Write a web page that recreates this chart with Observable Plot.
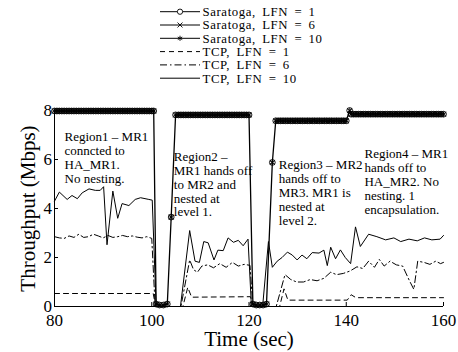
<!DOCTYPE html>
<html><head><meta charset="utf-8">
<script src="https://cdn.jsdelivr.net/npm/d3@7"></script>
<script src="https://cdn.jsdelivr.net/npm/@observablehq/plot@0.6"></script>
<style>
body{margin:0;background:#fff;}
#chart{width:458px;height:352px;overflow:hidden;}
svg{display:block;}
</style>
</head><body><div id="chart"></div>
<script>
// ---- Saratoga (all three LFN values overlap) ----
const sarTime = [
 80,80.5,81,81.5,82,82.5,83,83.5,84,84.5,85,85.5,86,86.5,87,87.5,88,88.5,89,89.5,
 90,90.5,91,91.5,92,92.5,93,93.5,94,94.5,95,95.5,96,96.5,97,97.5,98,98.5,99,99.5,100,100.4,
 100.9,101.6,102.4,103.2,104.0,104.9,
 105.5,106,106.5,107,107.5,108,108.5,109,109.5,110,110.5,111,111.5,112,112.5,113,113.5,114,114.5,115,
 115.5,116,116.5,117,117.5,118,118.5,119,119.5,120,
 120.8,121.5,122.2,122.9,123.6,124.8,125.5,
 126,126.5,127,127.5,128,128.5,129,129.5,130,130.5,131,131.5,132,132.5,133,133.5,134,134.5,135,135.5,
 136,136.5,137,137.5,138,138.5,139,139.5,140,
 140.7,
 141,141.5,142,142.5,143,143.5,144,144.5,145,145.5,146,146.5,147,147.5,148,148.5,149,149.5,150,150.5,
 151,151.5,152,152.5,153,153.5,154,154.5,155,155.5,156,156.5,157,157.5,158,158.5,159,159.5,160
];
const sarValue = [
 7.98,7.98,7.98,7.98,7.98,7.98,7.98,7.98,7.98,7.98,7.98,7.98,7.98,7.98,7.98,7.98,7.98,7.98,7.98,7.98,
 7.98,7.98,7.98,7.98,7.98,7.98,7.98,7.98,7.98,7.98,7.98,7.98,7.98,7.98,7.98,7.98,7.98,7.98,7.98,7.98,7.98,7.98,
 0.1,0.06,0.06,0.1,3.65,7.82,
 7.82,7.82,7.82,7.82,7.82,7.82,7.82,7.82,7.82,7.82,7.82,7.82,7.82,7.82,7.82,7.82,7.82,7.82,7.82,7.82,
 7.82,7.82,7.82,7.82,7.82,7.82,7.82,7.82,7.82,7.82,
 0.1,0.06,0.06,0.06,0.1,5.88,7.58,
 7.58,7.58,7.58,7.58,7.58,7.58,7.58,7.58,7.58,7.58,7.58,7.58,7.58,7.58,7.58,7.58,7.58,7.58,7.58,7.58,
 7.58,7.58,7.58,7.58,7.58,7.58,7.58,7.58,7.58,
 8.0,
 7.85,7.85,7.85,7.85,7.85,7.85,7.85,7.85,7.85,7.85,7.85,7.85,7.85,7.85,7.85,7.85,7.85,7.85,7.85,7.85,
 7.85,7.85,7.85,7.85,7.85,7.85,7.85,7.85,7.85,7.85,7.85,7.85,7.85,7.85,7.85,7.85,7.85,7.85,7.85
];

// ---- TCP, LFN = 10 (solid) ----
const tcp10Time = [80,81,82.6,83.6,84.7,85.7,87.1,88.4,89.4,90.1,90.8,92,93,93.9,95.3,96.6,97.7,99.4,100.1,100.9,
 105.9,107.8,108.9,109.8,110.7,111.6,112.8,113.6,114.7,115.7,116.8,117.8,118.8,119.8,120.5,
 122.8,124,124.8,125.8,126.8,127.9,128.9,129.9,130.9,131.9,133,134.4,135.4,136.1,136.8,137.8,138.8,139.8,140.9,
 141.9,142.9,144.6,146.3,148.1,149.8,151.2,152.9,154.6,156.1,157.6,159.3,160];
const tcp10Value = [4.3,4.67,4.37,4.53,4.4,4.64,4.8,4.74,4.74,4.89,2.52,4.71,3.6,4.2,4.12,4.37,4.44,4.37,4.34,0,
 0,3.1,1.85,1.8,2.65,2.6,1.9,2.3,2.28,2.8,2.62,2.7,2.48,2.75,0,
 0,2.65,1.6,1.85,2.0,2.22,2.1,1.9,2.1,1.95,2.2,2.18,2.3,1.67,2.42,1.95,2.31,2.0,1.75,
 3.25,2.45,2.95,2.85,2.72,2.8,2.65,2.75,2.68,2.8,2.72,2.75,2.9];

// ---- TCP, LFN = 6 (dash-dot) ----
const tcp6Time = [80,81,82,83,84,85,86,87,88,89,90,91,92,93,94,95,96,97,98,99,100,100.7,
 106,107.8,108.6,109.4,110.3,111.5,112.7,114,115.3,116.6,117.8,119,120.2,120.8,
 125.6,127.4,128.6,129.8,131.2,132.6,134,135.4,136.8,138,139.4,140.8,142.2,143.4,144.6,145.8,146.8,147.8,
 149,150.3,151.6,153,153.9,154.7,156,157.2,158.4,159.4,160];
const tcp6Value = [2.85,2.8,2.78,2.88,2.82,2.95,2.82,2.85,2.95,2.88,2.8,2.9,2.82,2.85,2.9,2.85,2.88,2.83,2.8,2.85,2.78,0,
 0,1.9,1.5,1.4,1.65,1.7,1.58,1.75,1.6,1.8,1.65,1.72,1.68,0,
 0,1.3,1.1,1.0,1.0,1.1,1.05,1.15,1.4,1.3,1.35,1.45,1.62,1.55,1.85,1.6,1.92,1.65,
 1.85,1.7,1.65,1.05,0.7,1.85,1.8,1.72,1.85,1.75,1.8];

// ---- TCP, LFN = 1 (dashed) ----
const tcp1Time = [80,100.3,100.8,106.4,107.4,108.2,120.3,120.9,126.3,127.2,128,140.2,141,142,160];
const tcp1Value = [0.53,0.53,0,0,0.78,0.38,0.4,0,0,0.72,0.26,0.26,0.48,0.36,0.36];

// ---- axes / labels ----
const xTicks = [80,100,120,140,160];
const yTicks = [0,2,4,6,8];
const xTitle = "Time (sec)";
const yTitle = "Throughput (Mbps)";

// ---- annotations ----
const annoTime = [82.06,104.53,126.13,143.75];
const annoValue = [7.15,6.35,6.02,6.45];
const annoText = [
 "Region1 \u2013 MR1\nconncted to\nHA_MR1.\nNo nesting.",
 "Region2 \u2013\nMR1 hands off\nto MR2 and\nnested at\nlevel 1.",
 "Region3 \u2013 MR2\nhands off to\nMR3. MR1 is\nnested at\nlevel 2.",
 "Region4 \u2013 MR1\nhands off to\nHA_MR2. No\nnesting. 1\nencapsulation."
];

// ---- legend ----
const legendLabels = ["Saratoga, LFN = 1","Saratoga, LFN = 6","Saratoga, LFN = 10","TCP, LFN = 1","TCP, LFN = 6","TCP, LFN = 10"];
const legendMarkers = ["circle","times","asterisk",null,null,null];
const legendDash = [null,null,null,"5,4","7,3,1.5,3",null];

const FONT = "Liberation Serif, Times New Roman, serif";
const toRows = (ts, vs) => ts.map((t,i)=>({t, v: vs[i]}));
const sar = toRows(sarTime, sarValue);
const tcp10 = toRows(tcp10Time, tcp10Value);
const tcp6 = toRows(tcp6Time, tcp6Value);
const tcp1 = toRows(tcp1Time, tcp1Value);
const annos = annoText.map((s,i)=>({t: annoTime[i], v: annoValue[i], s}));

const chart = document.getElementById("chart");

// legend svg (above the plot)
const symbolMap = {circle: d3.symbolCircle, times: d3.symbolTimes, asterisk: d3.symbolAsterisk};
const leg = d3.create("svg").attr("width",458).attr("height",92);
legendLabels.forEach((lab,i)=>{
  const g = leg.append("g").attr("transform",`translate(0,${11.7 + i*13.3})`);
  const ln = g.append("line").attr("x1",160).attr("x2",200).attr("y1",0).attr("y2",0)
    .attr("stroke","black").attr("stroke-width",1);
  if (legendDash[i]) ln.attr("stroke-dasharray", legendDash[i]);
  if (legendMarkers[i]) g.append("path").attr("transform","translate(180,0)")
    .attr("d", d3.symbol(symbolMap[legendMarkers[i]], legendMarkers[i]==="circle"?22:18)())
    .attr("fill", legendMarkers[i]==="circle" ? "white" : "none").attr("stroke","black").attr("stroke-width",0.9);
  g.append("text").attr("x",202.5).attr("dy","0.35em").text(lab)
    .attr("font-family",FONT).attr("font-size",12.8).attr("letter-spacing",0.6).attr("word-spacing",2.5)
    .attr("fill","black");
});
chart.appendChild(leg.node());

const plot = Plot.plot({
  width: 458, height: 260,
  marginLeft: 54, marginRight: 15, marginTop: 18, marginBottom: 46,
  style: {fontFamily: FONT, fontSize: "17px", color: "black", background: "white", overflow: "visible"},
  x: {domain: [xTicks[0], xTicks[xTicks.length-1]]},
  y: {domain: [yTicks[0], yTicks[yTicks.length-1]]},
  marks: [
    Plot.line(tcp1, {x:"t", y:"v", stroke:"black", strokeWidth:1, strokeDasharray:"5,4"}),
    Plot.line(tcp6, {x:"t", y:"v", stroke:"black", strokeWidth:1, strokeDasharray:"7,3,1.5,3"}),
    Plot.line(tcp10, {x:"t", y:"v", stroke:"black", strokeWidth:1}),
    Plot.line(sar, {x:"t", y:"v", stroke:"black", strokeWidth:1.3}),
    Plot.dot(sar, {x:"t", y:"v", symbol:"circle", r:2.9, stroke:"black", fill:"none", strokeWidth:0.9}),
    Plot.dot(sar, {x:"t", y:"v", symbol:"times", r:2.4, stroke:"black", strokeWidth:0.8}),
    Plot.dot(sar, {x:"t", y:"v", symbol:"asterisk", r:2.4, stroke:"black", strokeWidth:0.8}),
    Plot.ruleX([xTicks[0]], {stroke:"black"}),
    Plot.ruleY([yTicks[0]], {stroke:"black"}),
    Plot.axisX({ticks: xTicks, tickSize: -4, tickPadding: 11, label: null, fontSize: 17, fontFamily: FONT}),
    Plot.axisY({ticks: yTicks, tickSize: -4, tickPadding: 6.5, label: null, fontSize: 17, fontFamily: FONT}),
    Plot.text(annos, {x:"t", y:"v", text:"s", textAnchor:"start", lineAnchor:"top", fontSize:13, lineHeight:1.07, fill:"black", fontFamily: FONT}),
    Plot.text([yTitle], {frameAnchor:"left", dx:-26, rotate:-90, textAnchor:"middle", lineAnchor:"middle", fontSize:21, fill:"black", fontFamily: FONT}),
    Plot.text([xTitle], {frameAnchor:"bottom", dy:33, textAnchor:"middle", lineAnchor:"middle", fontSize:21, fill:"black", fontFamily: FONT})
  ]
});
chart.appendChild(plot);
</script>
</body></html>
